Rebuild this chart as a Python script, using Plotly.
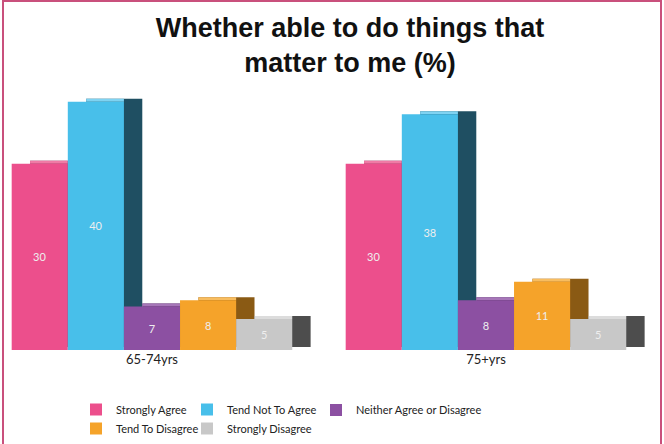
import plotly.graph_objects as go

# ---- data ----
groups = ["65-74yrs", "75+yrs"]
series = ["Strongly Agree", "Tend Not To Agree", "Neither Agree or Disagree",
          "Tend To Disagree", "Strongly Disagree"]
strongly_agree = [30, 30]
tend_not_to_agree = [40, 38]
neither = [7, 8]
tend_to_disagree = [8, 11]
strongly_disagree = [5, 5]
values = [strongly_agree, tend_not_to_agree, neither, tend_to_disagree, strongly_disagree]

front_colors = ["#ec4f8c", "#48bfea", "#8c50a2", "#f5a32a", "#c8c8c8"]
top_colors = ["#f07aa6", "#7fd3f2", "#a676b8", "#f8bd60", "#dcdcdc"]
side_colors = ["#7a1f44", "#1f4f62", "#4a2a5a", "#8a5a14", "#4d4d4d"]
legend_column = ["legend", "legend2", "legend3", "legend", "legend2"]

xpos = [0, 1]
bar_w = 0.168
start = -0.42
dx = 0.055
dy = 0.5

fig = go.Figure()

# side (depth) faces first
for i, (name, vals) in enumerate(zip(series, values)):
    fig.add_trace(go.Bar(
        x=xpos, y=vals, base=[dy] * len(vals),
        width=bar_w, offset=start + i * bar_w + dx,
        marker=dict(color=side_colors[i], line=dict(width=0)),
        showlegend=False, hoverinfo="skip",
    ))

# top faces
for i, (name, vals) in enumerate(zip(series, values)):
    fig.add_trace(go.Bar(
        x=xpos, y=[dy] * len(vals), base=vals,
        width=bar_w - dx, offset=start + i * bar_w + dx,
        marker=dict(color=top_colors[i], line=dict(width=0)),
        showlegend=False, hoverinfo="skip",
    ))

# front faces
for i, (name, vals) in enumerate(zip(series, values)):
    fig.add_trace(go.Bar(
        x=xpos, y=vals, name=name,
        width=bar_w, offset=start + i * bar_w,
        marker=dict(color=front_colors[i], line=dict(width=0)),
        text=[str(v) for v in vals], textposition="inside",
        insidetextanchor="middle",
        textfont=dict(family="Lato", size=11, color="#eeeeee"),
        legend=legend_column[i],
    ))

H_plot_top = 77
H_plot_bot = 350
ph = H_plot_bot - H_plot_top

def py(pix):
    return (H_plot_bot - pix) / ph

legend_common = dict(
    orientation="v", xanchor="left", yanchor="middle",
    font=dict(family="Lato", size=11, color="#222222"),
    bgcolor="rgba(0,0,0,0)", tracegroupgap=0,
)

fig.update_layout(
    width=664, height=444,
    margin=dict(l=0, r=0, t=H_plot_top, b=444 - H_plot_bot),
    paper_bgcolor="white", plot_bgcolor="white",
    barmode="overlay",
    title=dict(
        text="Whether able to do things that<br>matter to me (%)",
        x=0.527, xanchor="center", y=0.916, yanchor="top",
        font=dict(family="Liberation Sans", size=27, color="#111111", weight="bold"),
    ),
    xaxis=dict(
        range=[-0.455, 1.533], tickmode="array", tickvals=xpos, ticktext=groups,
        showgrid=False, zeroline=False, showline=False, ticks="",
        tickfont=dict(family="Lato", size=13, color="#222222"),
    ),
    yaxis=dict(range=[0, 44], visible=False),
    legend=dict(legend_common, x=76 / 664, y=py(419)),
    legend2=dict(legend_common, x=187 / 664, y=py(419)),
    legend3=dict(legend_common, x=316 / 664, y=py(410)),
    shapes=[dict(
        type="rect", xref="paper", yref="paper",
        x0=3 / 664, x1=661 / 664, y0=py(470), y1=py(1),
        line=dict(color="#c9507c", width=2), fillcolor="rgba(0,0,0,0)",
    )],
)

fig.write_html("out.html", config={"displayModeBar": False},
               post_script="document.body.style.margin='0';")
